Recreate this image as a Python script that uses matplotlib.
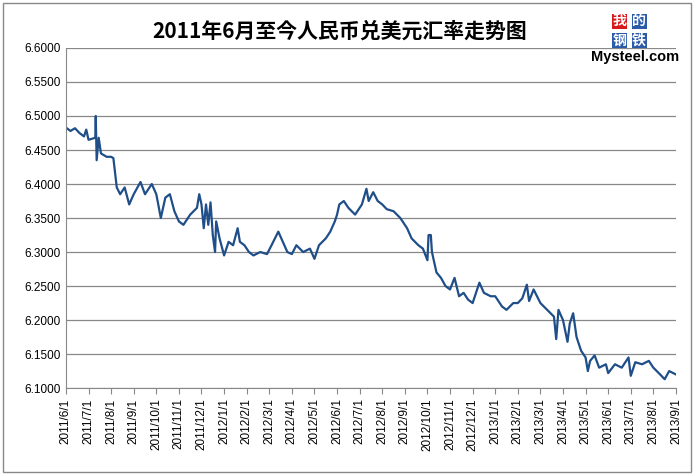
import matplotlib.pyplot as plt
from matplotlib.patches import Rectangle

# month offset from 2011/6/1, and exchange rate
months = [0, 0.2, 0.4, 0.6, 0.8, 0.9, 1.0, 1.3, 1.32, 1.36, 1.45, 1.55, 1.8, 2.0, 2.1, 2.25,
          2.4, 2.6, 2.8, 3.0, 3.3, 3.5, 3.8, 4.0, 4.2, 4.4, 4.6, 4.8, 5.0, 5.2, 5.5, 5.8,
          5.9, 6.0, 6.1, 6.2, 6.3, 6.4, 6.5, 6.6, 6.65, 6.8, 7.0, 7.2, 7.4, 7.6, 7.7, 7.9,
          8.1, 8.3, 8.6, 8.9, 9.1, 9.4, 9.6, 9.8, 10.0, 10.2, 10.5, 10.8, 11.0, 11.2, 11.5,
          11.7, 11.9, 12.0, 12.1, 12.3, 12.5, 12.8, 13.1, 13.3, 13.4, 13.6, 13.8, 14.0,
          14.2, 14.5, 14.8, 15.1, 15.3, 15.6, 15.8, 16.0, 16.05, 16.15, 16.2, 16.4, 16.6,
          16.8, 17.0, 17.2, 17.4, 17.6, 17.8, 18.0, 18.3, 18.5, 18.8, 19.0, 19.3, 19.5,
          19.8, 20.0, 20.2, 20.4, 20.5, 20.7, 21.0, 21.3, 21.6, 21.7, 21.8, 22.0, 22.2,
          22.3, 22.45, 22.6, 22.8, 23.0, 23.1, 23.2, 23.4, 23.6, 23.9, 24.0, 24.3, 24.6,
          24.9, 25.0, 25.2, 25.5, 25.8, 26.0, 26.3, 26.5, 26.7, 27.0]
rates = [6.483, 6.478, 6.482, 6.475, 6.470, 6.480, 6.465, 6.468, 6.500, 6.435, 6.468, 6.445,
         6.440, 6.440, 6.438, 6.395, 6.385, 6.395, 6.370, 6.385, 6.403, 6.385, 6.400, 6.385,
         6.350, 6.380, 6.385, 6.360, 6.345, 6.340, 6.355, 6.365, 6.385, 6.370, 6.335, 6.370,
         6.340, 6.373, 6.325, 6.300, 6.345, 6.320, 6.295, 6.315, 6.310, 6.335, 6.315, 6.310,
         6.300, 6.295, 6.300, 6.297, 6.310, 6.330, 6.315, 6.300, 6.297, 6.310, 6.300, 6.305,
         6.290, 6.310, 6.320, 6.330, 6.345, 6.355, 6.370, 6.375, 6.365, 6.355, 6.370, 6.393,
         6.375, 6.388, 6.375, 6.370, 6.363, 6.360, 6.350, 6.335, 6.320, 6.310, 6.305, 6.288,
         6.325, 6.325, 6.300, 6.270, 6.262, 6.250, 6.245, 6.262, 6.235, 6.240, 6.230, 6.225,
         6.255, 6.240, 6.235, 6.235, 6.220, 6.215, 6.225, 6.225, 6.232, 6.252, 6.228, 6.245,
         6.225, 6.215, 6.205, 6.172, 6.215, 6.200, 6.168, 6.195, 6.210, 6.175, 6.155, 6.145,
         6.125, 6.140, 6.148, 6.130, 6.135, 6.122, 6.135, 6.130, 6.145, 6.118, 6.138, 6.135,
         6.140, 6.130, 6.120, 6.113, 6.125, 6.120]

tick_labels = ["2011/6/1", "2011/7/1", "2011/8/1", "2011/9/1", "2011/10/1", "2011/11/1",
               "2011/12/1", "2012/1/1", "2012/2/1", "2012/3/1", "2012/4/1", "2012/5/1",
               "2012/6/1", "2012/7/1", "2012/8/1", "2012/9/1", "2012/10/1", "2012/11/1",
               "2012/12/1", "2013/1/1", "2013/2/1", "2013/3/1", "2013/4/1", "2013/5/1",
               "2013/6/1", "2013/7/1", "2013/8/1", "2013/9/1"]
y_ticks = [6.10, 6.15, 6.20, 6.25, 6.30, 6.35, 6.40, 6.45, 6.50, 6.55, 6.60]

cjk = ["Noto Sans CJK SC", "Noto Sans CJK JP", "Noto Sans CJK TC", "Noto Sans CJK KR", "DejaVu Sans"]

fig = plt.figure(figsize=(6.94, 4.75), dpi=100)
fig.patches.append(Rectangle((0.004, 0.006), 0.992, 0.988, transform=fig.transFigure,
                             fill=False, edgecolor="#888888", linewidth=1))
ax = fig.add_axes([0.095, 0.183, 0.879, 0.716])
ax.plot(months, rates, color="#1F4E89", linewidth=1.6)
ax.set_xlim(0, 27)
ax.set_ylim(6.1, 6.6)
ax.set_yticks(y_ticks)
ax.set_yticklabels([f"{v:.4f}" for v in y_ticks], fontsize=8.5, family="Liberation Sans")
ax.set_xticks(range(len(tick_labels)))
ax.set_xticklabels(tick_labels, rotation=90, fontsize=8.5, family="Liberation Sans")
ax.grid(axis="y", color="#888888", linewidth=0.9)
ax.set_axisbelow(True)
for s in ["top", "right"]:
    ax.spines[s].set_visible(False)
ax.spines["left"].set_color("#888888")
ax.spines["bottom"].set_color("#888888")
ax.tick_params(axis="y", length=0)
ax.tick_params(axis="x", length=4, color="#888888")

fig.text(0.49, 0.935, "2011年6月至今人民币兑美元汇率走势图", ha="center", va="center",
         fontsize=15, fontweight="bold", family=cjk)
# logo
for i, (ch, col) in enumerate([("我", "#D7191C"), ("的", "#2B5BA8"), ("钢", "#2B5BA8"), ("铁", "#2B5BA8")]):
    x = 0.893 + (i % 2) * 0.028
    y = 0.955 - (i // 2) * 0.04
    fig.text(x, y, ch, color="white", fontsize=10, fontweight="bold", family=cjk,
             ha="center", va="center", bbox=dict(boxstyle="square,pad=0.05", fc=col, ec="none"))
fig.text(0.915, 0.88, "Mysteel.com", ha="center", va="center", fontsize=10.5,
         fontweight="bold", family="Liberation Sans")

fig.savefig("out.png", dpi=100)
